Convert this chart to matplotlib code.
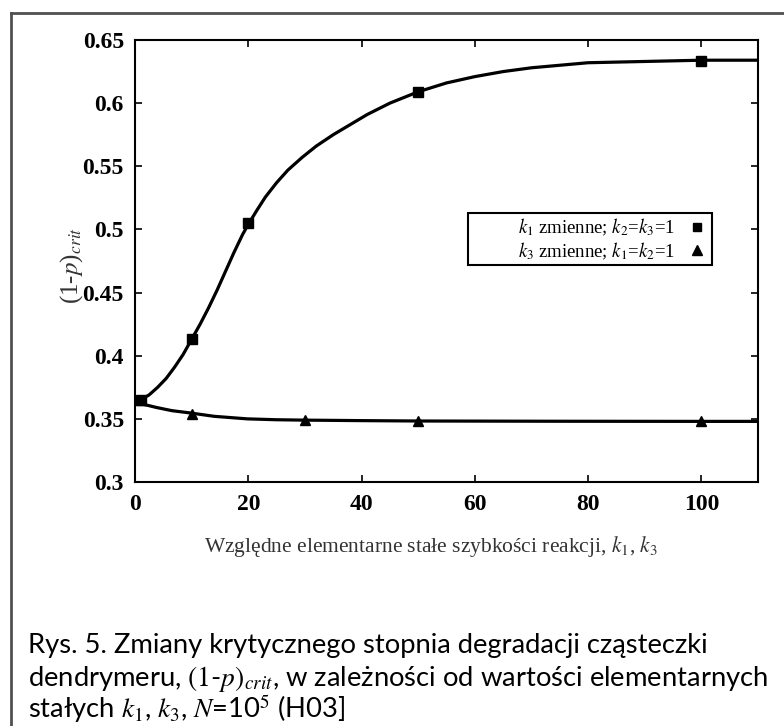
import matplotlib.pyplot as plt
from matplotlib.lines import Line2D
from matplotlib.patches import Rectangle

plt.rcParams["font.family"] = ["Liberation Serif", "DejaVu Serif"]
plt.rcParams["mathtext.fontset"] = "stix"

# punkty pomiarowe
k1_x = [1, 10, 20, 50, 100]
k1_y = [0.365, 0.413, 0.505, 0.609, 0.633]
k3_x = [1, 10, 30, 50, 100]
k3_y = [0.365, 0.354, 0.349, 0.348, 0.348]

# krzywe
k1_line_x = [1, 2.5, 4, 5.5, 7, 8.5, 10, 11.5, 13, 14.5, 16, 17.5, 19, 20, 21.5, 23,
             25, 27, 29.5, 32, 35, 38, 41, 45, 50, 55, 60, 65, 70, 75, 80, 90, 100, 110]
k1_line_y = [0.365, 0.369, 0.375, 0.382, 0.391, 0.401, 0.413, 0.425, 0.438, 0.452,
             0.467, 0.482, 0.496, 0.504, 0.515, 0.5255, 0.537, 0.547, 0.557, 0.566,
             0.575, 0.583, 0.591, 0.600, 0.609, 0.616, 0.621, 0.625, 0.628, 0.630,
             0.632, 0.633, 0.634, 0.634]
k3_line_x = [0, 1.5, 3.8, 6.5, 9.7, 14, 19.8, 25, 29.8, 40, 50, 75, 100, 110]
k3_line_y = [0.3642, 0.3615, 0.359, 0.3565, 0.3547, 0.352, 0.350, 0.3493, 0.349,
             0.3486, 0.3483, 0.3481, 0.348, 0.348]

x_ticks = [0, 20, 40, 60, 80, 100]
y_ticks = [0.3, 0.35, 0.4, 0.45, 0.5, 0.55, 0.6, 0.65]
y_tick_labels = ["0.3", "0.35", "0.4", "0.45", "0.5", "0.55", "0.6", "0.65"]

fig = plt.figure(figsize=(7.84, 7.26), dpi=100)
ax = fig.add_axes([135 / 784, 1 - 482 / 726, 623 / 784, 442 / 726])

ax.plot(k1_line_x, k1_line_y, color="black", lw=2.3, solid_joinstyle="round")
ax.plot(k3_line_x, k3_line_y, color="black", lw=2.3, solid_joinstyle="round")
ax.plot(k1_x, k1_y, "s", color="black", ms=7)
ax.plot(k3_x, k3_y, "^", color="black", ms=7)

ax.set_xlim(0, 110)
ax.set_ylim(0.3, 0.65)
ax.set_xticks(x_ticks)
ax.set_xticklabels([str(t) for t in x_ticks], fontweight="bold", fontsize=17)
ax.set_yticks(y_ticks)
ax.set_yticklabels(y_tick_labels, fontweight="bold", fontsize=17)
ax.tick_params(direction="in", length=5, width=1.2, top=True, right=True,
               labeltop=False, labelright=False)
ax.tick_params(axis="x", pad=9)
ax.tick_params(axis="y", pad=8)
for s in ax.spines.values():
    s.set_linewidth(1.5)

ax.set_xlabel("Względne elementarne stałe szybkości reakcji, $k_1$, $k_3$",
              fontsize=15.5, color="#333333")
ax.xaxis.set_label_coords(0.475, -0.118)
ax.set_ylabel("(1-$p$)$_{crit}$", fontsize=18, color="#333333")
ax.yaxis.set_label_coords(-0.08, 0.49)

# legenda
ax.add_patch(Rectangle((0.5345, 0.491), 0.3915, 0.1176, transform=ax.transAxes,
                       fill=True, facecolor="white", edgecolor="black", lw=1.5, zorder=4))
handles = [Line2D([], [], ls="none", marker="s", color="black", ms=5.5),
           Line2D([], [], ls="none", marker="^", color="black", ms=6.5)]
labels = ["$k_1$ zmienne; $k_2$=$k_3$=1", "$k_3$ zmienne; $k_1$=$k_2$=1"]
leg = ax.legend(handles, labels, loc="center right", bbox_to_anchor=(0.92, 0.549),
                markerfirst=False, fontsize=13.5, frameon=False,
                borderpad=0, labelspacing=0.1, handletextpad=0.6,
                handlelength=1.2, borderaxespad=0)
leg.set_zorder(5)

# ramka wokol rysunku
fig.add_artist(Line2D([11 / 784, 11 / 784], [0, 1 - 13 / 726],
                      transform=fig.transFigure, color="#505050", lw=2))
fig.add_artist(Line2D([11 / 784, 1], [1 - 13 / 726, 1 - 13 / 726],
                      transform=fig.transFigure, color="#505050", lw=2))

# podpis
cap = dict(fontsize=19.7, family=["Lato", "DejaVu Sans"], color="black", va="baseline")
fig.text(28 / 784, 1 - 653 / 726, "Rys. 5. Zmiany krytycznego stopnia degradacji cząsteczki", **cap)
fig.text(28 / 784, 1 - 686 / 726,
         "dendrymeru, $(1$-$p)_{crit}$, w zależności od wartości elementarnych", **cap)
fig.text(28 / 784, 1 - 718 / 726, "stałych $k_{\\mathrm{1}}$, $k_{\\mathrm{3}}$, $N$=10$^5$ (H03]", **cap)

fig.savefig("out.png", dpi=100)
